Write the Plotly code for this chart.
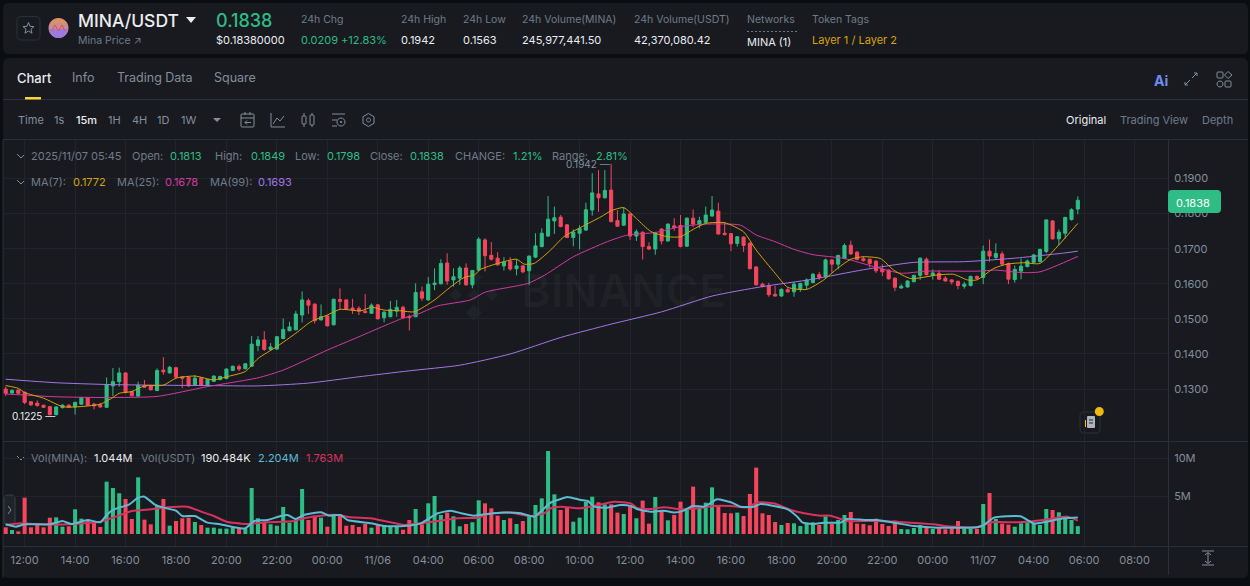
import plotly.graph_objects as go

# ---------- data ----------
opens = [
0.1300,0.1289,0.1297,0.1291,0.1264,0.1260,0.1254,0.1250,0.1227,0.1247,
0.1254,0.1249,0.1257,0.1275,0.1257,0.1255,0.1248,0.1309,0.1321,0.1346,
0.1293,0.1280,0.1310,0.1309,0.1296,0.1354,0.1346,0.1361,0.1335,0.1333,
0.1310,0.1332,0.1310,0.1322,0.1327,0.1330,0.1353,0.1364,0.1358,0.1365,
0.1424,0.1440,0.1413,0.1414,0.1444,0.1466,0.1469,0.1511,0.1552,0.1542,
0.1497,0.1508,0.1483,0.1555,0.1554,0.1531,0.1530,0.1522,0.1516,0.1540,
0.1503,0.1506,0.1522,0.1533,0.1507,0.1506,0.1577,0.1554,0.1598,0.1600,
0.1659,0.1611,0.1616,0.1645,0.1597,0.1639,0.1725,0.1681,0.1673,0.1651,
0.1664,0.1643,0.1651,0.1637,0.1676,0.1706,0.1736,0.1779,0.1790,0.1768,
0.1732,0.1744,0.1753,0.1810,0.1856,0.1845,0.1867,0.1780,0.1767,0.1799,
0.1736,0.1747,0.1706,0.1699,0.1756,0.1722,0.1765,0.1766,0.1707,0.1787,
0.1770,0.1775,0.1793,0.1807,0.1744,0.1743,0.1715,0.1733,0.1716,0.1648,
0.1599,0.1595,0.1570,0.1565,0.1583,0.1577,0.1585,0.1596,0.1604,0.1626,
0.1620,0.1668,0.1656,0.1672,0.1710,0.1690,0.1671,0.1670,0.1664,0.1642,
0.1639,0.1616,0.1588,0.1591,0.1606,0.1624,0.1670,0.1624,0.1630,0.1616,
0.1611,0.1607,0.1593,0.1595,0.1621,0.1618,0.1693,0.1675,0.1685,0.1658,
0.1612,0.1636,0.1649,0.1661,0.1663,0.1692,0.1779,0.1728,0.1744,0.1783,
0.1813]
highs = [
0.1307,0.1299,0.1299,0.1293,0.1265,0.1268,0.1255,0.1251,0.1251,0.1257,
0.1257,0.1264,0.1278,0.1277,0.1261,0.1261,0.1333,0.1360,0.1361,0.1347,
0.1295,0.1321,0.1326,0.1310,0.1359,0.1391,0.1366,0.1362,0.1337,0.1336,
0.1340,0.1334,0.1329,0.1339,0.1338,0.1359,0.1367,0.1370,0.1374,0.1451,
0.1451,0.1465,0.1431,0.1451,0.1501,0.1492,0.1523,0.1578,0.1558,0.1544,
0.1541,0.1511,0.1557,0.1587,0.1555,0.1557,0.1536,0.1571,0.1544,0.1542,
0.1522,0.1551,0.1554,0.1538,0.1512,0.1601,0.1592,0.1619,0.1644,0.1670,
0.1687,0.1644,0.1651,0.1658,0.1639,0.1733,0.1730,0.1719,0.1690,0.1676,
0.1676,0.1670,0.1653,0.1680,0.1744,0.1758,0.1850,0.1820,0.1796,0.1770,
0.1755,0.1767,0.1831,0.1915,0.1924,0.1924,0.1942,0.1810,0.1818,0.1801,
0.1755,0.1749,0.1718,0.1748,0.1758,0.1772,0.1787,0.1796,0.1789,0.1812,
0.1791,0.1820,0.1850,0.1831,0.1776,0.1744,0.1736,0.1735,0.1717,0.1650,
0.1603,0.1603,0.1594,0.1587,0.1590,0.1606,0.1603,0.1615,0.1631,0.1634,
0.1672,0.1670,0.1682,0.1715,0.1723,0.1693,0.1679,0.1672,0.1668,0.1656,
0.1641,0.1618,0.1599,0.1610,0.1626,0.1675,0.1675,0.1641,0.1639,0.1622,
0.1613,0.1609,0.1606,0.1623,0.1624,0.1709,0.1726,0.1715,0.1692,0.1660,
0.1652,0.1672,0.1669,0.1685,0.1700,0.1783,0.1782,0.1755,0.1791,0.1815,
0.1849]
lows = [
0.1280,0.1285,0.1286,0.1257,0.1252,0.1250,0.1246,0.1225,0.1225,0.1245,
0.1246,0.1227,0.1255,0.1252,0.1242,0.1247,0.1247,0.1280,0.1307,0.1288,
0.1279,0.1278,0.1304,0.1296,0.1294,0.1341,0.1344,0.1332,0.1303,0.1307,
0.1309,0.1308,0.1308,0.1320,0.1325,0.1328,0.1351,0.1351,0.1356,0.1364,
0.1408,0.1409,0.1410,0.1411,0.1442,0.1465,0.1467,0.1490,0.1514,0.1487,
0.1496,0.1479,0.1482,0.1527,0.1525,0.1514,0.1511,0.1516,0.1514,0.1499,
0.1490,0.1505,0.1506,0.1501,0.1467,0.1505,0.1551,0.1552,0.1582,0.1598,
0.1597,0.1592,0.1597,0.1595,0.1587,0.1637,0.1635,0.1666,0.1652,0.1638,
0.1637,0.1624,0.1630,0.1597,0.1673,0.1704,0.1734,0.1742,0.1761,0.1730,
0.1707,0.1698,0.1751,0.1794,0.1805,0.1843,0.1776,0.1763,0.1765,0.1725,
0.1722,0.1669,0.1696,0.1683,0.1712,0.1720,0.1751,0.1704,0.1705,0.1761,
0.1758,0.1773,0.1791,0.1740,0.1738,0.1693,0.1706,0.1691,0.1641,0.1595,
0.1590,0.1563,0.1564,0.1563,0.1575,0.1563,0.1577,0.1584,0.1601,0.1611,
0.1617,0.1632,0.1641,0.1670,0.1683,0.1668,0.1663,0.1646,0.1631,0.1622,
0.1612,0.1579,0.1586,0.1589,0.1604,0.1611,0.1624,0.1612,0.1611,0.1606,
0.1598,0.1584,0.1586,0.1592,0.1612,0.1599,0.1663,0.1668,0.1654,0.1599,
0.1603,0.1613,0.1647,0.1659,0.1661,0.1687,0.1726,0.1710,0.1729,0.1780,
0.1798]
closes = [
0.1288,0.1296,0.1288,0.1262,0.1255,0.1253,0.1248,0.1227,0.1249,0.1254,
0.1248,0.1262,0.1275,0.1254,0.1252,0.1249,0.1312,0.1321,0.1346,0.1290,
0.1281,0.1311,0.1305,0.1298,0.1353,0.1349,0.1362,0.1334,0.1331,0.1309,
0.1331,0.1310,0.1327,0.1337,0.1336,0.1357,0.1365,0.1357,0.1372,0.1428,
0.1440,0.1413,0.1420,0.1449,0.1470,0.1477,0.1514,0.1554,0.1539,0.1495,
0.1506,0.1480,0.1556,0.1550,0.1527,0.1525,0.1522,0.1518,0.1539,0.1500,
0.1519,0.1527,0.1533,0.1503,0.1504,0.1575,0.1559,0.1599,0.1602,0.1658,
0.1608,0.1620,0.1645,0.1597,0.1638,0.1727,0.1680,0.1670,0.1654,0.1662,
0.1642,0.1651,0.1634,0.1679,0.1708,0.1744,0.1784,0.1788,0.1763,0.1732,
0.1747,0.1757,0.1811,0.1859,0.1845,0.1866,0.1777,0.1764,0.1799,0.1736,
0.1748,0.1706,0.1699,0.1745,0.1722,0.1770,0.1760,0.1706,0.1787,0.1770,
0.1780,0.1796,0.1810,0.1742,0.1740,0.1714,0.1734,0.1709,0.1643,0.1597,
0.1592,0.1569,0.1565,0.1584,0.1577,0.1599,0.1601,0.1611,0.1627,0.1618,
0.1668,0.1656,0.1681,0.1709,0.1685,0.1669,0.1666,0.1658,0.1637,0.1634,
0.1614,0.1590,0.1593,0.1608,0.1624,0.1673,0.1626,0.1631,0.1613,0.1608,
0.1605,0.1595,0.1599,0.1621,0.1615,0.1693,0.1679,0.1686,0.1656,0.1613,
0.1641,0.1650,0.1665,0.1682,0.1698,0.1782,0.1728,0.1747,0.1789,0.1811,
0.1838]
volumes = [
0.88,0.53,0.35,4.81,0.88,1.19,0.88,2.16,2.20,0.97,
1.02,3.27,2.03,1.81,1.59,0.93,6.93,6.09,5.39,4.64,
1.99,7.50,1.90,1.28,3.75,4.64,1.10,1.72,2.08,2.16,
1.59,1.19,0.84,0.84,0.71,0.71,0.84,0.75,0.75,6.09,
2.08,1.63,1.28,1.10,3.58,1.50,1.85,5.96,1.85,2.43,
2.16,0.97,2.52,2.38,1.10,1.19,0.93,1.32,0.84,1.19,
1.19,0.97,0.97,0.57,1.85,3.31,1.28,4.06,5.03,2.52,
2.83,2.34,1.02,1.32,1.55,4.46,4.06,3.40,2.43,1.85,
2.08,1.32,1.72,2.38,3.84,4.72,10.99,5.25,3.18,3.53,
1.63,2.16,4.28,4.94,4.19,3.93,3.93,2.83,2.65,3.62,
2.08,4.42,1.37,4.90,3.18,1.81,2.52,4.28,3.18,6.27,
3.40,4.15,6.18,3.75,2.78,2.74,2.83,2.38,5.30,8.79,
2.74,2.52,1.59,1.19,1.46,1.41,1.06,1.32,1.55,1.19,
2.34,1.32,1.85,2.52,2.91,1.37,1.32,1.15,2.03,1.32,
1.06,1.77,0.66,0.62,0.79,1.19,0.97,0.66,0.75,0.62,
0.75,1.72,0.75,0.75,0.66,3.97,5.43,1.99,1.37,1.24,
0.97,1.41,1.55,1.41,1.19,3.31,3.18,2.87,2.16,1.85,
1.04]

ma7_pos = [0,2,3,6,9,11,15,17,18,20,22,25,27,30,33,35,38,40,43,46,48.4,51,53,56.3,58,60,62.7,64.8,68,70.6,72.7,74.3,75.3,78,81,82.2,83.8,86.4,88.5,91.2,94.4,96,98,100,102.3,105,107,109,111,114,117,119,122,124,127,129.7,131.9,134,136,138.7,140.8,143.5,147.7,150.3,152.5,154,156.7,158.8,161.4,164,166.7,170]
ma7_val = [0.1310,0.1302,0.1290,0.1274,0.1250,0.1249,0.1257,0.1276,0.1288,0.1293,0.1309,0.1311,0.1331,0.1337,0.1326,0.1335,0.1350,0.1387,0.1421,0.1459,0.1492,0.1511,0.1527,0.1523,0.1533,0.1525,0.1523,0.1520,0.1554,0.1592,0.1618,0.1625,0.1641,0.1658,0.1670,0.1656,0.1658,0.1696,0.1734,0.1761,0.1791,0.1808,0.1817,0.1786,0.1749,0.1734,0.1734,0.1755,0.1772,0.1774,0.1748,0.1696,0.1630,0.1590,0.1584,0.1611,0.1644,0.1670,0.1677,0.1672,0.1639,0.1615,0.1625,0.1627,0.1611,0.1611,0.1644,0.1656,0.1660,0.1658,0.1705,0.1772]
ma25_pos = [0,8,16,24,32,40,44,51,56,63,65,68.5,73.7,76,82.8,85.5,90,95.4,98.6,103,107,111,116.5,119,122,125,128,133,138,142,146,154,157,161,164,170]
ma25_val = [0.1286,0.1278,0.1276,0.1279,0.1307,0.1332,0.1354,0.1411,0.1449,0.1502,0.1511,0.1537,0.1554,0.1576,0.1601,0.1625,0.1677,0.1720,0.1739,0.1746,0.1763,0.1770,0.1767,0.1739,0.1720,0.1698,0.1683,0.1672,0.1647,0.1630,0.1636,0.1636,0.1639,0.1632,0.1634,0.1678]
ma99_pos = [0,8,16,24,32,40,48,56,64,72,80,88,96,104,112,120,128,136,144,152,160,168,170]
ma99_val = [0.1328,0.1318,0.1313,0.1311,0.1310,0.1309,0.1317,0.1335,0.1352,0.1368,0.1400,0.1447,0.1485,0.1520,0.1565,0.1592,0.1613,0.1640,0.1661,0.1663,0.1673,0.1688,0.1693]

vol_fast_pos = [0,1.6,3,7,9,10.4,13,15,16,17,19.6,21,22,23.6,25,27,28,30,32,34,36,38,39.4,41.5,43.6,44.7,46,47.3,50,51.3,53.1,54.2,57.9,60,63.2,65.8,68.5,70.6,72.2,74.3,76.4,79,81.7,83.8,85.4,86.2,87.5,89.1,91.2,92.3,93.3,95.4,97.5,99.1,100.2,102.3,104.4,106,107.5,108.9,110.8,112.8,115,116.5,118.6,119.7,121.8,124,125.5,126.3,128.2,129.7,132.4,133.4,136.1,138.2,141.4,144,147.7,154,155.1,156.7,160.9,163,164.6,167.8,170]
vol_fast_val = [1.28,0.97,1.28,1.28,1.72,1.32,1.85,1.55,2.50,3.18,3.93,4.81,4.94,3.93,3.49,3.09,2.38,2.38,1.50,1.28,0.93,0.75,1.72,1.85,2.38,2.52,1.99,2.52,2.87,2.43,2.52,1.85,1.41,1.06,1.06,1.41,2.74,3.09,2.74,2.43,2.65,2.83,2.74,2.30,3.40,4.06,4.50,4.90,4.50,4.37,3.62,3.49,3.84,3.71,3.27,2.96,3.09,2.83,3.09,3.71,3.62,4.59,4.20,3.62,3.62,3.97,3.71,3.27,2.30,1.55,1.32,1.50,1.50,1.99,1.85,1.85,1.41,1.06,0.84,0.88,1.19,2.16,2.34,1.41,1.55,2.08,2.20]
vol_slow_pos = [0,2.4,5.6,9.8,15,17,20,23,25.7,28.8,31,33,35,38,41.5,45.7,47.3,50,52.6,54.7,57.9,60,63.2,65.8,68.5,71.6,74.8,76.9,80,83.2,85.4,86.4,88,91.2,93.3,96.5,99.1,100.2,102.3,104.4,107,109.7,112.3,115,117.6,119.2,121.8,124.5,126.6,129.2,130.8,133.4,138.2,143.5,147.2,148.8,154,156.2,160.4,164.6,168.3,170]
vol_slow_val = [1.19,1.41,1.28,1.28,1.63,2.16,3.05,3.27,3.53,3.62,2.96,2.38,1.63,1.32,1.55,1.72,2.08,2.43,2.52,2.21,2.08,1.72,1.19,1.41,1.72,2.08,2.16,2.74,2.83,2.38,2.74,3.40,3.62,3.40,3.71,4.28,4.06,3.40,3.31,3.53,3.27,3.40,3.71,3.71,3.53,4.19,4.06,3.18,2.74,2.43,2.43,1.72,1.72,1.50,1.28,1.06,0.88,1.55,1.55,1.85,2.30,1.76]

time_tick_pos = [3,11,19,27,35,43,51,59,67,75,83,91,99,107,115,123,131,139,147,155,163,171,179]
time_tick_labels = ["12:00","14:00","16:00","18:00","20:00","22:00","00:00","11/06","04:00","06:00","08:00","10:00","12:00","14:00","16:00","18:00","20:00","22:00","00:00","11/07","04:00","06:00","08:00"]
price_ticks = [0.13,0.14,0.15,0.16,0.17,0.18,0.19]
vol_ticks = [5,10]
vol_tick_labels = ["5M","10M"]

# ---------- style ----------
W, H = 1250, 586
FONT = "Inter"
PAGE = "#0b0e11"
PANEL = "#181a20"
GREEN = "#2ebd85"
RED = "#f6465d"
GREY = "#848e9c"
DIM = "#707a8a"
LIGHT = "#eaecef"
GRID = "#21252b"
LINE = "#2b3139"
YEL = "#d9a20b"
PINK = "#d33aa0"
PURP = "#a474e6"
CYAN = "#5bbcd3"
VPINK = "#d8325f"

def X(x): return x / W
def Y(y): return 1 - y / H

annots, shapes = [], []

def text(x, y, s, size=11, color=GREY, anchor="left", weight=400, opacity=None):
    a = dict(xref="paper", yref="paper", x=X(x - 2), y=Y(y), text=s, showarrow=False,
             xanchor=anchor, yanchor="middle", borderpad=0,
             font=dict(family=FONT, size=size, color=color, weight=weight))
    if opacity is not None:
        a["opacity"] = opacity
    annots.append(a)

def px(d):
    out = []
    for t in d.split():
        if "," in t:
            a, b = t.split(",")
            out.append(f"{X(float(a)):.5f},{Y(float(b)):.5f}")
        else:
            out.append(t)
    return " ".join(out)

def path(d, fill=None, line=None, lw=1, layer="below", dash=None):
    s = dict(type="path", xref="paper", yref="paper", path=px(d), layer=layer,
             line=dict(color=line or "rgba(0,0,0,0)", width=lw if line else 0))
    if dash:
        s["line"]["dash"] = dash
    if fill:
        s["fillcolor"] = fill
    shapes.append(s)

def rrect(x0, y0, x1, y1, r, fill=None, line=None, lw=1, layer="below"):
    d = (f"M {x0+r},{y0} L {x1-r},{y0} Q {x1},{y0} {x1},{y0+r} L {x1},{y1-r} Q {x1},{y1} {x1-r},{y1} "
         f"L {x0+r},{y1} Q {x0},{y1} {x0},{y1-r} L {x0},{y0+r} Q {x0},{y0} {x0+r},{y0} Z")
    path(d, fill, line, lw, layer)

def seg(x0, y0, x1, y1, color=LINE, lw=1, dash=None):
    path(f"M {x0},{y0} L {x1},{y1}", None, color, lw, dash=dash)

def circle(cx, cy, r, fill=None, line=None, lw=1):
    k = r * 0.552
    path(f"M {cx-r},{cy} C {cx-r},{cy-k} {cx-k},{cy-r} {cx},{cy-r} C {cx+k},{cy-r} {cx+r},{cy-k} {cx+r},{cy} "
         f"C {cx+r},{cy+k} {cx+k},{cy+r} {cx},{cy+r} C {cx-k},{cy+r} {cx-r},{cy+k} {cx-r},{cy} Z", fill, line, lw)

# panels
rrect(3, 3, 1248, 54, 6, PANEL)
rrect(3, 58, 1248, 578, 6, PANEL)
seg(3, 99.5, 1248, 99.5)
seg(3, 139.5, 1248, 139.5)
seg(3, 139.5, 3, 578)
seg(1168.5, 139.5, 1168.5, 575)
seg(3, 441.5, 1248, 441.5)
seg(3, 546.5, 1248, 546.5)

# header
rrect(17, 16.5, 40, 40, 4, None, "#2b3139")
path("M 28.5,22.5 L 30,26.3 L 34,26.6 L 31,29.2 L 32,33.2 L 28.5,31 L 25,33.2 L 26,29.2 L 23,26.6 L 27,26.3 Z", None, GREY, 1)
circle(58.5, 28, 10, "#c98c8f")
path("M 50,23 Q 58.5,14 67,23 Z", "#e0925a")
path("M 49,29 L 68,29 Q 66,38 58.5,38 Q 51,38 49,29 Z", "#9c7ae0")
path("M 52,31 L 55,25 L 58.5,31 L 62,25 L 65,31", None, "#e8504a", 1)
text(79, 21, "MINA/USDT", 17.5, LIGHT, weight=500)
path("M 186,17 L 196,17 L 191,23 Z", LIGHT)
text(79, 40, "Mina Price ↗", 10.5, DIM)
text(217, 21, "0.1838", 18, GREEN, weight=500)
text(217, 40, "$0.18380000", 11, LIGHT)
for x, a, b, col in [(302, "24h Chg", "0.0209 +12.83%", GREEN), (402, "24h High", "0.1942", LIGHT),
                     (464, "24h Low", "0.1563", LIGHT), (523, "24h Volume(MINA)", "245,977,441.50", LIGHT),
                     (635, "24h Volume(USDT)", "42,370,080.42", LIGHT)]:
    text(x, 19, a, 10.5, DIM)
    text(x, 40, b, 11, col)
text(748, 19, "Networks", 10.5, DIM)
seg(747, 31.5, 797, 31.5, "#707a8a", 1, dash="2px,2px")
text(748, 42, "MINA (1)", 11, LIGHT)
text(813, 19, "Token Tags", 10.5, DIM)
text(813, 40, "Layer 1 / Layer 2", 11, "#d9a20b")

# tabs
text(18, 77.5, "Chart", 13, LIGHT, weight=500)
text(73, 77.5, "Info", 12.5, GREY)
text(118, 77.5, "Trading Data", 12.5, GREY)
text(215, 77.5, "Square", 12.5, GREY)
path("M 25,97 L 41,97 L 41,99.5 L 25,99.5 Z", "#fcd535")
text(1155, 81, "Ai", 14, "#6f8cf0", weight=700)
seg(1185, 85, 1190, 80, GREY); seg(1192, 78, 1197, 73, GREY)
path("M 1194,73 L 1197,73 L 1197,76", None, GREY); path("M 1185,82 L 1185,85 L 1188,85", None, GREY)
rrect(1217, 72, 1223, 78, 1, None, GREY)
path("M 1228,71.5 L 1232,75 L 1228,78.5 L 1224.5,75 Z", None, GREY)
circle(1220, 84, 3, None, GREY)
rrect(1225, 81, 1231, 87, 1, None, GREY)

# toolbar
for x, s, c, w in [(19, "Time", GREY, 400), (55, "1s", GREY, 400), (77, "15m", LIGHT, 500), (109, "1H", GREY, 400),
                   (133, "4H", GREY, 400), (158, "1D", GREY, 400), (182, "1W", GREY, 400)]:
    text(x, 120, s, 11, c, weight=w)
path("M 213,118 L 221,118 L 217,122 Z", GREY)
rrect(241, 114, 254, 127, 1, None, GREY); seg(241, 118, 254, 118, GREY); seg(245, 112, 245, 115, GREY); seg(250, 112, 250, 115, GREY)
path("M 251,122.5 L 245,122.5 M 247,120.5 L 245,122.5 L 247,124.5", None, GREY)
path("M 271,113 L 271,127 L 285,127 M 273,124 L 277,118 L 280,121 L 284,116", None, GREY)
rrect(302, 116, 306, 124, 1, None, GREY); seg(304, 113, 304, 116, GREY); seg(304, 124, 304, 127, GREY)
rrect(310, 115, 314, 125, 1, None, GREY); seg(312, 113, 312, 115, GREY); seg(312, 125, 312, 127, GREY)
seg(332, 114, 345, 114, GREY); seg(332, 120, 337, 120, GREY); seg(332, 126, 337, 126, GREY); circle(341, 122, 4, None, GREY); circle(341, 122, 1, GREY)
path("M 368.5,113.5 L 374,116.7 L 374,123.3 L 368.5,126.5 L 363,123.3 L 363,116.7 Z", None, GREY); circle(368.5, 120, 2, None, GREY)
text(1067, 120, "Original", 11, LIGHT)
text(1121, 120, "Trading View", 11, DIM)
text(1203, 120, "Depth", 11, DIM)

# legend rows
def chevron(y):
    path(f"M 17,{y-2} L 21,{y+2} L 25,{y-2}", None, GREY)
chevron(156)
for x, s, c in [(32, "2025/11/07 05:45", DIM), (133, "Open:", DIM), (171, "0.1813", GREEN), (216, "High:", DIM),
                (252, "0.1849", GREEN), (296, "Low:", DIM), (328, "0.1798", GREEN), (371, "Close:", DIM),
                (411, "0.1838", GREEN), (456, "CHANGE:", DIM), (514, "1.21%", GREEN), (553, "Range:", DIM), (597, "2.81%", GREEN)]:
    text(x, 156, s, 11, c)
chevron(182)
for x, s, c in [(32, "MA(7):", DIM), (74, "0.1772", YEL), (118, "MA(25):", DIM), (166, "0.1678", PINK),
                (211, "MA(99):", DIM), (259, "0.1693", PURP)]:
    text(x, 182, s, 11, c)
chevron(458)
for x, s, c in [(32, "Vol(MINA):", DIM), (95, "1.044M", LIGHT), (142, "Vol(USDT)", DIM), (202, "190.484K", LIGHT),
                (259, "2.204M", CYAN), (307, "1.763M", VPINK)]:
    text(x, 458, s, 11, c)

# watermark
WM = "#1f2227"
for cx, cy, r in [(474, 277, 8), (474, 313, 8), (456, 295, 6), (492, 295, 6), (474, 295, 6)]:
    path(f"M {cx},{cy-r} L {cx+r},{cy} L {cx},{cy+r} L {cx-r},{cy} Z", WM)
text(522, 291, "BINANCE", 45, "rgba(255,255,255,0.028)", weight=700)

# extreme labels, price tag, small icons
annots.append(dict(x=96, y=highs[96], xref="x", yref="y", text="0.1942 —", showarrow=False, xanchor="right",
                   yanchor="middle", xshift=1, yshift=0, font=dict(family=FONT, size=10, color=GREY)))
annots.append(dict(x=8, y=lows[8], xref="x", yref="y", text="0.1225 —", showarrow=False, xanchor="right",
                   yanchor="middle", xshift=1, yshift=-1, font=dict(family=FONT, size=10, color=LIGHT)))
rrect(1168, 190, 1221, 213, 4, GREEN, layer="above")
text(1177, 202.5, "0.1838", 11, "#ffffff")
rrect(1080, 412, 1100, 433, 4, PANEL, "#2b3139")
circle(1099.3, 411.5, 4.5, "#f0b90b")
path("M 1084,420 L 1086,420 L 1086,427 L 1084,427 Z", "#f0b90b")
rrect(1087, 416, 1095, 428, 1, "#aeb4bc")
seg(1089, 420, 1093, 420, "#1e2329"); seg(1089, 423, 1093, 423, "#1e2329")
rrect(4, 495, 15, 525, 4, "#1e2329", "#3a3f47")
path("M 8,506 L 11,510 L 8,514", None, GREY)
path("M 1202,551 L 1214,551 M 1202,565 L 1214,565 M 1208,553 L 1208,563 M 1205,555 L 1208,552.5 L 1211,555 M 1205,561 L 1208,563.5 L 1211,561", None, GREY)

# ---------- traces ----------
idx = list(range(len(closes)))
vol_colors = [GREEN if c >= o else RED for o, c in zip(opens, closes)]
fig = go.Figure()
fig.add_trace(go.Bar(x=idx, y=volumes, width=0.64, marker=dict(color=vol_colors, line_width=0),
                     xaxis="x2", yaxis="y2", name="Vol"))
fig.add_trace(go.Scatter(x=vol_slow_pos, y=vol_slow_val, mode="lines", line=dict(color=VPINK, width=2, shape="spline", smoothing=0.5),
                         xaxis="x2", yaxis="y2", name="Vol(USDT)"))
fig.add_trace(go.Scatter(x=vol_fast_pos, y=vol_fast_val, mode="lines", line=dict(color=CYAN, width=2, shape="spline", smoothing=0.5),
                         xaxis="x2", yaxis="y2", name="Vol(MINA)"))
fig.add_trace(go.Candlestick(x=idx, open=opens, high=highs, low=lows, close=closes,
                             increasing=dict(line=dict(color=GREEN, width=1), fillcolor=GREEN),
                             decreasing=dict(line=dict(color=RED, width=1), fillcolor=RED),
                             whiskerwidth=0, xaxis="x", yaxis="y", name="MINA/USDT"))
for pos, val, col, nm in [(ma99_pos, ma99_val, PURP, "MA(99)"), (ma25_pos, ma25_val, PINK, "MA(25)"), (ma7_pos, ma7_val, YEL, "MA(7)")]:
    fig.add_trace(go.Scatter(x=pos, y=val, mode="lines", line=dict(color=col, width=1, shape="spline", smoothing=0.6),
                             xaxis="x", yaxis="y", name=nm))

rng = [-0.43, 184.3]
dom_x = [X(3), X(1168)]
fig.update_layout(
    width=W, height=H, margin=dict(l=0, r=0, t=0, b=0), autosize=False,
    paper_bgcolor=PAGE, plot_bgcolor="rgba(0,0,0,0)", showlegend=False,
    hovermode=False, dragmode=False,
    annotations=annots, shapes=shapes,
    xaxis=dict(domain=dom_x, range=rng, anchor="y", showticklabels=False, tickvals=time_tick_pos, ticks="",
               showgrid=True, gridcolor=GRID, gridwidth=1, zeroline=False, showline=False,
               rangeslider=dict(visible=False)),
    yaxis=dict(domain=[Y(441), Y(140)], range=[0.1152, 0.20097], anchor="x", side="right", tickvals=price_ticks,
               tickformat=".4f", ticks="outside", ticklen=3, tickcolor="rgba(0,0,0,0)",
               tickfont=dict(family=FONT, size=11, color=GREY),
               showgrid=True, gridcolor=GRID, zeroline=False, showline=False),
    xaxis2=dict(domain=dom_x, range=rng, anchor="y2", tickvals=time_tick_pos, ticktext=time_tick_labels, ticks="",
                tickfont=dict(family=FONT, size=11, color=GREY), ticklabelstandoff=6,
                showgrid=True, gridcolor=GRID, zeroline=False, showline=False),
    yaxis2=dict(domain=[Y(546), Y(442)], range=[-1.59, 12.18], anchor="x2", side="right", tickvals=vol_ticks,
                ticktext=vol_tick_labels, ticks="outside", ticklen=3, tickcolor="rgba(0,0,0,0)",
                tickfont=dict(family=FONT, size=11, color=GREY),
                showgrid=True, gridcolor=GRID, zeroline=False, showline=False),
)

fig.write_html("out.html", config={"displayModeBar": False, "staticPlot": True},
               post_script="document.body.style.margin='0';document.body.style.background='#0b0e11';document.body.style.overflow='hidden';")
